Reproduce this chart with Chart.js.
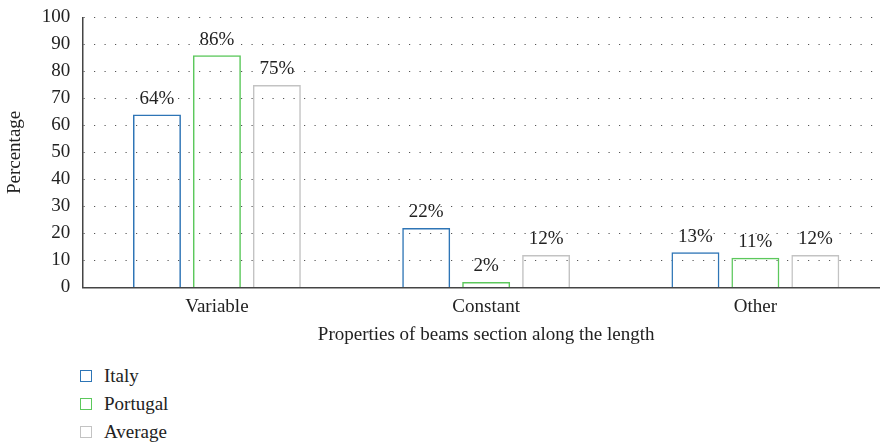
<!DOCTYPE html>
<html>
<head>
<meta charset="utf-8">
<script src="https://cdn.jsdelivr.net/npm/chart.js@4/dist/chart.umd.min.js"></script>
<style>
  html, body { margin: 0; padding: 0; background: #fff; overflow: hidden; }
  #wrap { position: relative; width: 880px; height: 447px; overflow: hidden; }
  #box { position: absolute; left: 0; top: -6px; width: 890px; height: 356px; }
  #legend { position: absolute; left: 80px; top: 362px; font-family: "Liberation Serif", serif; font-size: 19px; color: #222; }
  #legend div { height: 28px; display: flex; align-items: center; }
  #legend span.sw { display: inline-block; width: 10px; height: 10px; border: 1.5px solid; margin-right: 12px; }
</style>
</head>
<body>
<div id="wrap">
  <div id="box"><canvas id="chart"></canvas></div>
  <div id="legend"></div>
</div>
<script>
const categories = ["Variable", "Constant", "Other"];
const seriesNames = ["Italy", "Portugal", "Average"];
const italy = [64, 22, 13];
const portugal = [86, 2, 11];
const average = [75, 12, 12];
const yTicks = [0, 10, 20, 30, 40, 50, 60, 70, 80, 90, 100];
const colors = ["#2e75b6", "#5cc85c", "#c3c3c3"];

const font = "Liberation Serif";

// labels above bars, like "64%"
const barLabels = {
  id: "barLabels",
  afterDatasetsDraw(chart) {
    const ctx = chart.ctx;
    ctx.save();
    ctx.font = "19px " + font;
    ctx.fillStyle = "#222";
    ctx.textAlign = "center";
    ctx.textBaseline = "bottom";
    chart.data.datasets.forEach((ds, i) => {
      chart.getDatasetMeta(i).data.forEach((bar, j) => {
        ctx.fillText(ds.data[j] + "%", bar.x, bar.y - 6);
      });
    });
    ctx.restore();
  }
};

const allSeries = [italy, portugal, average];

new Chart(document.getElementById("chart"), {
  type: "bar",
  data: {
    labels: categories,
    datasets: allSeries.map((d, i) => ({
      label: seriesNames[i],
      data: d,
      backgroundColor: "rgba(0,0,0,0)",
      borderColor: colors[i],
      borderWidth: 1.5,
      barPercentage: 0.8,
      categoryPercentage: 0.668
    }))
  },
  options: {
    responsive: true,
    maintainAspectRatio: false,
    animation: false,
    layout: { padding: { top: 2, right: 0, left: 0, bottom: 0 } },
    plugins: {
      legend: { display: false },
      tooltip: { enabled: false }
    },
    scales: {
      x: {
        grid: { display: false },
        border: { display: true, color: "#444", width: 1.5 },
        ticks: { color: "#222", font: { family: font, size: 19 }, padding: 0 },
        title: {
          display: true,
          text: "Properties of beams section along the length",
          color: "#222",
          font: { family: font, size: 19 },
          padding: { top: 5 }
        }
      },
      y: {
        min: 0,
        max: 100,
        afterBuildTicks: (scale) => { scale.ticks = yTicks.map(v => ({ value: v })); },
        grid: { color: "#555", lineWidth: 1, drawTicks: false },
        border: { display: true, color: "#444", width: 1.5, dash: [1.2, 9.3] },
        ticks: { color: "#222", font: { family: font, size: 19 }, padding: 12 },
        title: {
          display: true,
          text: "Percentage",
          color: "#222",
          font: { family: font, size: 19 },
          padding: { top: 4, bottom: 3 }
        }
      }
    }
  },
  plugins: [barLabels]
});

const leg = document.getElementById("legend");
seriesNames.forEach((n, i) => {
  const row = document.createElement("div");
  row.innerHTML = '<span class="sw" style="border-color:' + colors[i] + '"></span>' + n;
  leg.appendChild(row);
});
</script>
</body>
</html>
